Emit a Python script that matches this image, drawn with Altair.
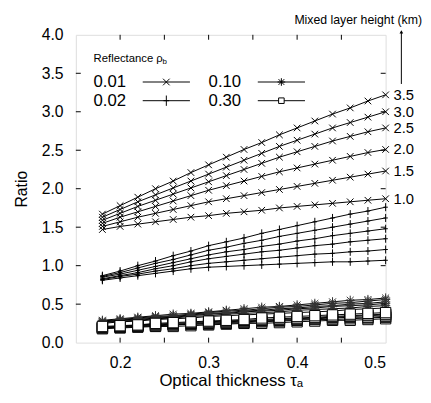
import altair as alt
import pandas as pd

tau = [0.18, 0.20, 0.22, 0.24, 0.26, 0.28, 0.30, 0.32, 0.34, 0.36, 0.38, 0.40, 0.42, 0.44, 0.46, 0.48, 0.50]
heights = ["1.0", "1.5", "2.0", "2.5", "3.0", "3.5"]
reflectances = ["0.01", "0.02", "0.10", "0.30"]

# reflectance 0.01, mixed layer heights 1.0 .. 3.5 km
ratio_001 = [
    [1.47, 1.51, 1.54, 1.57, 1.60, 1.63, 1.65, 1.68, 1.70, 1.72, 1.75, 1.77, 1.79, 1.81, 1.83, 1.85, 1.87],
    [1.51, 1.57, 1.63, 1.68, 1.73, 1.78, 1.83, 1.87, 1.91, 1.95, 1.99, 2.03, 2.07, 2.11, 2.15, 2.19, 2.23],
    [1.55, 1.63, 1.70, 1.77, 1.84, 1.91, 1.98, 2.04, 2.10, 2.16, 2.22, 2.27, 2.32, 2.37, 2.42, 2.47, 2.51],
    [1.59, 1.68, 1.77, 1.85, 1.93, 2.01, 2.09, 2.17, 2.25, 2.33, 2.41, 2.48, 2.55, 2.62, 2.68, 2.74, 2.79],
    [1.63, 1.73, 1.83, 1.92, 2.01, 2.10, 2.19, 2.28, 2.37, 2.46, 2.55, 2.63, 2.71, 2.79, 2.86, 2.93, 3.00],
    [1.67, 1.78, 1.89, 2.00, 2.10, 2.21, 2.31, 2.41, 2.51, 2.60, 2.70, 2.79, 2.88, 2.97, 3.05, 3.14, 3.22],
]
# reflectance 0.02
ratio_002 = [
    [0.81, 0.84, 0.87, 0.90, 0.93, 0.96, 0.98, 0.99, 1.00, 1.01, 1.02, 1.03, 1.04, 1.05, 1.05, 1.06, 1.07],
    [0.82, 0.86, 0.89, 0.93, 0.96, 1.00, 1.03, 1.05, 1.07, 1.09, 1.11, 1.13, 1.15, 1.16, 1.18, 1.19, 1.21],
    [0.83, 0.87, 0.91, 0.96, 1.00, 1.05, 1.09, 1.12, 1.15, 1.18, 1.20, 1.23, 1.26, 1.28, 1.31, 1.33, 1.35],
    [0.85, 0.89, 0.94, 0.99, 1.04, 1.09, 1.14, 1.18, 1.21, 1.25, 1.28, 1.32, 1.35, 1.39, 1.42, 1.45, 1.48],
    [0.86, 0.91, 0.97, 1.03, 1.08, 1.14, 1.20, 1.24, 1.29, 1.33, 1.38, 1.42, 1.46, 1.50, 1.54, 1.58, 1.62],
    [0.87, 0.93, 1.00, 1.06, 1.13, 1.19, 1.26, 1.31, 1.36, 1.42, 1.47, 1.52, 1.57, 1.62, 1.67, 1.71, 1.76],
]
# reflectance 0.10
ratio_010 = [
    [0.25, 0.27, 0.28, 0.30, 0.31, 0.32, 0.34, 0.35, 0.36, 0.37, 0.38, 0.39, 0.40, 0.41, 0.43, 0.44, 0.45],
    [0.26, 0.28, 0.29, 0.31, 0.32, 0.34, 0.35, 0.37, 0.38, 0.39, 0.40, 0.42, 0.43, 0.44, 0.45, 0.47, 0.48],
    [0.27, 0.29, 0.30, 0.32, 0.33, 0.35, 0.37, 0.38, 0.40, 0.41, 0.42, 0.44, 0.45, 0.47, 0.48, 0.49, 0.51],
    [0.27, 0.29, 0.31, 0.33, 0.34, 0.36, 0.38, 0.39, 0.41, 0.42, 0.44, 0.45, 0.47, 0.48, 0.50, 0.51, 0.53],
    [0.28, 0.30, 0.32, 0.34, 0.35, 0.37, 0.39, 0.41, 0.42, 0.44, 0.46, 0.47, 0.49, 0.51, 0.52, 0.54, 0.56],
    [0.29, 0.31, 0.33, 0.35, 0.37, 0.38, 0.40, 0.42, 0.44, 0.46, 0.47, 0.49, 0.51, 0.53, 0.55, 0.56, 0.58],
]
# reflectance 0.30
ratio_030 = [
    [0.18, 0.19, 0.20, 0.21, 0.21, 0.22, 0.23, 0.24, 0.25, 0.25, 0.26, 0.27, 0.28, 0.29, 0.29, 0.30, 0.31],
    [0.19, 0.20, 0.21, 0.22, 0.23, 0.24, 0.24, 0.25, 0.26, 0.27, 0.28, 0.29, 0.30, 0.30, 0.31, 0.32, 0.33],
    [0.19, 0.20, 0.21, 0.22, 0.23, 0.24, 0.25, 0.26, 0.27, 0.28, 0.29, 0.30, 0.31, 0.32, 0.33, 0.33, 0.34],
    [0.20, 0.21, 0.22, 0.23, 0.24, 0.25, 0.26, 0.27, 0.28, 0.29, 0.30, 0.31, 0.32, 0.33, 0.34, 0.35, 0.36],
    [0.20, 0.21, 0.23, 0.24, 0.25, 0.26, 0.27, 0.28, 0.29, 0.30, 0.31, 0.32, 0.33, 0.34, 0.35, 0.36, 0.37],
    [0.21, 0.22, 0.23, 0.25, 0.26, 0.27, 0.28, 0.29, 0.30, 0.32, 0.33, 0.34, 0.35, 0.36, 0.37, 0.38, 0.39],
]

x_tick_values = [0.2, 0.25, 0.3, 0.35, 0.4, 0.45]
x_label_values = [0.2, 0.3, 0.4, 0.5]
y_tick_values = [0.5, 1.0, 1.5, 2.0, 2.5, 3.0, 3.5]
y_label_values = [0.0, 0.5, 1.0, 1.5, 2.0, 2.5, 3.0, 3.5, 4.0]

rows = []
for refl, grp in zip(reflectances, [ratio_001, ratio_002, ratio_010, ratio_030]):
    for h, vals in zip(heights, grp):
        for t, v in zip(tau, vals):
            rows.append({"refl": refl, "h": h, "tau": t, "ratio": v})
df = pd.DataFrame(rows)

FONT = "Liberation Sans"
W, H = 315, 313

xscale = alt.Scale(domain=[0.15, 0.5], nice=False, zero=False)
yscale = alt.Scale(domain=[0, 4], nice=False, zero=False)
xaxis = alt.Axis(values=x_label_values, format=".1f", title="Optical thickness τₐ",
                 ticks=False, domain=False, grid=False, labelFontSize=16, titleFontSize=17,
                 labelPadding=12, titlePadding=3, labelFont=FONT, titleFont=FONT,
                 titleFontWeight="normal", labelColor="black", titleColor="black")
yaxis = alt.Axis(values=y_label_values, format=".1f", title="Ratio",
                 ticks=False, domain=False, grid=False, labelFontSize=16, titleFontSize=16,
                 labelPadding=13, titlePadding=12, labelFont=FONT, titleFont=FONT,
                 titleFontWeight="normal", labelColor="black", titleColor="black")

X = alt.X("tau:Q", scale=xscale, axis=xaxis)
Y = alt.Y("ratio:Q", scale=yscale, axis=yaxis)

marker_paths = [
    "M-1,-1L1,1M-1,1L1,-1",
    "M-0.55,0L0.55,0M0,-1L0,1",
    "M-1,0L1,0M0,-1L0,1M-0.75,-0.75L0.75,0.75M-0.75,0.75L0.75,-0.75",
    "square",
]
marker_sizes = [45, 110, 60, 32]
marker_strokes = ["black", "black", "#333333", "black"]

lines = alt.Chart(df).mark_line(color="black", strokeWidth=1).encode(
    x=X, y=Y, detail=["refl:N", "h:N"]
)

points = alt.Chart(df).mark_point(fill="white", strokeWidth=1, opacity=1).encode(
    x=X, y=Y,
    shape=alt.Shape("refl:N", scale=alt.Scale(domain=reflectances, range=marker_paths), legend=None),
    size=alt.Size("refl:N", scale=alt.Scale(domain=reflectances, range=marker_sizes), legend=None),
    stroke=alt.Stroke("refl:N", scale=alt.Scale(domain=reflectances, range=marker_strokes), legend=None),
)

end_df = df[(df["refl"] == "0.01") & (df["tau"] == 0.5)]
end_labels = alt.Chart(end_df).mark_text(align="left", baseline="middle", dx=8, fontSize=15,
                                         font=FONT, color="black").encode(x=X, y=Y, text="h:N")

xt_df = pd.DataFrame({"tau": x_tick_values})
yt_df = pd.DataFrame({"ratio": y_tick_values})
tick_bottom = alt.Chart(xt_df).mark_rule(color="black", strokeWidth=1).encode(
    x=X, y=alt.value(H), y2=alt.value(H - 5))
tick_top = alt.Chart(xt_df).mark_rule(color="black", strokeWidth=1).encode(
    x=X, y=alt.value(0), y2=alt.value(5))
tick_left = alt.Chart(yt_df).mark_rule(color="black", strokeWidth=1).encode(
    y=Y, x=alt.value(0), x2=alt.value(5))
tick_right = alt.Chart(yt_df).mark_rule(color="black", strokeWidth=1).encode(
    y=Y, x=alt.value(W), x2=alt.value(W - 5))

# manual legend (layout positions in plot pixels)
one = pd.DataFrame({"k": [0]})
legend_layers = [
    alt.Chart(one).mark_text(align="left", baseline="middle", fontSize=11.5, font=FONT,
                             color="black").encode(x=alt.value(18), y=alt.value(25),
                                                   text=alt.value("Reflectance ρ")),
    alt.Chart(one).mark_text(align="left", baseline="middle", fontSize=8, font=FONT,
                             color="black").encode(x=alt.value(88), y=alt.value(28),
                                                   text=alt.value("b")),
]
leg_cols = [0, 0, 1, 1]
leg_rows = [0, 1, 0, 1]
for i, refl in enumerate(reflectances):
    lx = 18 + 117 * leg_cols[i]
    ly = 48 + 19 * leg_rows[i]
    sx0 = lx + 50
    sx1 = lx + 98
    legend_layers.append(
        alt.Chart(one).mark_text(align="left", baseline="middle", fontSize=17, font=FONT,
                                 color="black").encode(x=alt.value(lx), y=alt.value(ly),
                                                       text=alt.value(refl)))
    legend_layers.append(
        alt.Chart(one).mark_rule(color="black", strokeWidth=1).encode(
            x=alt.value(sx0), x2=alt.value(sx1), y=alt.value(ly)))
    legend_layers.append(
        alt.Chart(one).mark_point(shape=marker_paths[i], size=marker_sizes[i], fill="white",
                                  stroke="black", strokeWidth=1, opacity=1).encode(
            x=alt.value((sx0 + sx1) / 2), y=alt.value(ly)))

mlh_text = alt.Chart(one).mark_text(align="right", baseline="middle", fontSize=12.5,
                                    font=FONT, color="black").encode(
    x=alt.value(W + 37), y=alt.value(-15), text=alt.value("Mixed layer height (km)"))
arrow_line = alt.Chart(one).mark_rule(color="black", strokeWidth=1).encode(
    x=alt.value(W + 16), y=alt.value(-3), y2=alt.value(50))
arrow_head = alt.Chart(one).mark_point(shape="triangle-up", filled=True, color="black",
                                       size=14, opacity=1).encode(
    x=alt.value(W + 16), y=alt.value(-3))

chart = alt.layer(
    lines, points, end_labels,
    tick_bottom, tick_top, tick_left, tick_right,
    *legend_layers,
    mlh_text, arrow_line, arrow_head,
).properties(
    width=W, height=H,
    autosize=alt.AutoSizeParams(type="none"),
    padding={"left": 69, "top": 24, "right": 38, "bottom": 50},
).configure_view(stroke="black", strokeWidth=1.2).configure(background="white")

chart.save("out.html", embed_options={"renderer": "svg", "actions": False})
